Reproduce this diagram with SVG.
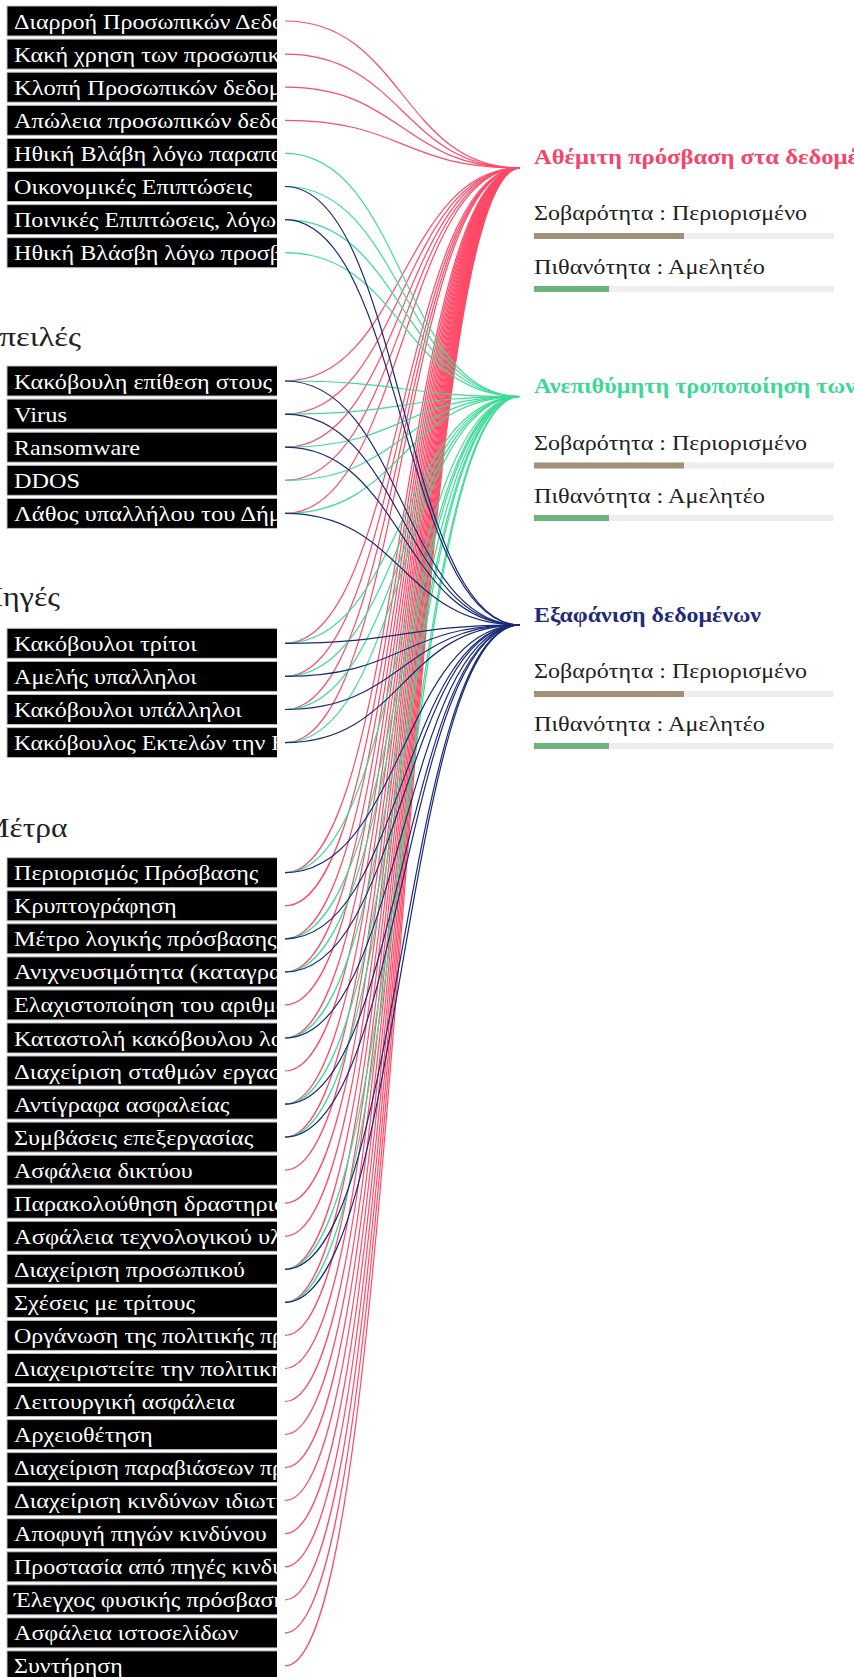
<svg xmlns="http://www.w3.org/2000/svg" width="854" height="1677" viewBox="0 0 854 1677">
<style>
.box{fill:#000;stroke:#bdbdbd;stroke-width:1}
.lbl{font-family:"Liberation Serif","DejaVu Serif",serif;font-size:22px;fill:#fff}
.hd{font-family:"Liberation Serif","DejaVu Serif",serif;font-size:28px;fill:#222}
.ttl{font-family:"Liberation Serif","DejaVu Serif",serif;font-size:20px;font-weight:bold}
.txt{font-family:"Liberation Serif","DejaVu Serif",serif;font-size:22px;fill:#222}
.bg{fill:#eeeeee}
.sev{fill:#a39079}
.prob{fill:#6cb47e}
.r{fill:none;stroke:#ff4a68;stroke-width:1.2}
.g{fill:none;stroke:#3ddc97;stroke-width:1.2}
.b{fill:none;stroke:#1b2a78;stroke-width:1.2}
</style>
<defs>
<clipPath id="lblclip"><rect x="0" y="0" width="277" height="1677"/></clipPath>
</defs>
<g id="connectors">
<g id="to-red">
<path class="r" d="M285,21C402.5,21 402.5,168 520,168"/>
<path class="r" d="M285,54.1C402.5,54.1 402.5,168 520,168"/>
<path class="r" d="M285,87.2C402.5,87.2 402.5,168 520,168"/>
<path class="r" d="M285,120.3C402.5,120.3 402.5,168 520,168"/>
<path class="r" d="M285,381C402.5,381 402.5,168 520,168"/>
<path class="r" d="M285,414.1C402.5,414.1 402.5,168 520,168"/>
<path class="r" d="M285,447.2C402.5,447.2 402.5,168 520,168"/>
<path class="r" d="M285,480.3C402.5,480.3 402.5,168 520,168"/>
<path class="r" d="M285,513.4C402.5,513.4 402.5,168 520,168"/>
<path class="r" d="M285,643.3C402.5,643.3 402.5,168 520,168"/>
<path class="r" d="M285,676.4C402.5,676.4 402.5,168 520,168"/>
<path class="r" d="M285,709.5C402.5,709.5 402.5,168 520,168"/>
<path class="r" d="M285,742.6C402.5,742.6 402.5,168 520,168"/>
<path class="r" d="M285,872.7C402.5,872.7 402.5,168 520,168"/>
<path class="r" d="M285,905.8C402.5,905.8 402.5,168 520,168"/>
<path class="r" d="M285,938.8C402.5,938.8 402.5,168 520,168"/>
<path class="r" d="M285,971.9C402.5,971.9 402.5,168 520,168"/>
<path class="r" d="M285,1004.9C402.5,1004.9 402.5,168 520,168"/>
<path class="r" d="M285,1038C402.5,1038 402.5,168 520,168"/>
<path class="r" d="M285,1071C402.5,1071 402.5,168 520,168"/>
<path class="r" d="M285,1104.1C402.5,1104.1 402.5,168 520,168"/>
<path class="r" d="M285,1137.1C402.5,1137.1 402.5,168 520,168"/>
<path class="r" d="M285,1170.2C402.5,1170.2 402.5,168 520,168"/>
<path class="r" d="M285,1203.2C402.5,1203.2 402.5,168 520,168"/>
<path class="r" d="M285,1236.3C402.5,1236.3 402.5,168 520,168"/>
<path class="r" d="M285,1269.3C402.5,1269.3 402.5,168 520,168"/>
<path class="r" d="M285,1302.4C402.5,1302.4 402.5,168 520,168"/>
<path class="r" d="M285,1335.4C402.5,1335.4 402.5,168 520,168"/>
<path class="r" d="M285,1368.5C402.5,1368.5 402.5,168 520,168"/>
<path class="r" d="M285,1401.5C402.5,1401.5 402.5,168 520,168"/>
<path class="r" d="M285,1434.6C402.5,1434.6 402.5,168 520,168"/>
<path class="r" d="M285,1467.6C402.5,1467.6 402.5,168 520,168"/>
<path class="r" d="M285,1500.7C402.5,1500.7 402.5,168 520,168"/>
<path class="r" d="M285,1533.7C402.5,1533.7 402.5,168 520,168"/>
<path class="r" d="M285,1566.8C402.5,1566.8 402.5,168 520,168"/>
<path class="r" d="M285,1599.8C402.5,1599.8 402.5,168 520,168"/>
<path class="r" d="M285,1632.9C402.5,1632.9 402.5,168 520,168"/>
<path class="r" d="M285,1665.9C402.5,1665.9 402.5,168 520,168"/>
</g>
<g id="to-green">
<path class="g" d="M285,153.4C402.5,153.4 402.5,396.5 520,396.5"/>
<path class="g" d="M285,186.5C402.5,186.5 402.5,396.5 520,396.5"/>
<path class="g" d="M285,219.6C402.5,219.6 402.5,396.5 520,396.5"/>
<path class="g" d="M285,252.7C402.5,252.7 402.5,396.5 520,396.5"/>
<path class="g" d="M285,381C402.5,381 402.5,396.5 520,396.5"/>
<path class="g" d="M285,414.1C402.5,414.1 402.5,396.5 520,396.5"/>
<path class="g" d="M285,447.2C402.5,447.2 402.5,396.5 520,396.5"/>
<path class="g" d="M285,480.3C402.5,480.3 402.5,396.5 520,396.5"/>
<path class="g" d="M285,513.4C402.5,513.4 402.5,396.5 520,396.5"/>
<path class="g" d="M285,643.3C402.5,643.3 402.5,396.5 520,396.5"/>
<path class="g" d="M285,676.4C402.5,676.4 402.5,396.5 520,396.5"/>
<path class="g" d="M285,709.5C402.5,709.5 402.5,396.5 520,396.5"/>
<path class="g" d="M285,742.6C402.5,742.6 402.5,396.5 520,396.5"/>
<path class="g" d="M285,872.7C402.5,872.7 402.5,396.5 520,396.5"/>
<path class="g" d="M285,938.8C402.5,938.8 402.5,396.5 520,396.5"/>
<path class="g" d="M285,971.9C402.5,971.9 402.5,396.5 520,396.5"/>
<path class="g" d="M285,1038C402.5,1038 402.5,396.5 520,396.5"/>
<path class="g" d="M285,1104.1C402.5,1104.1 402.5,396.5 520,396.5"/>
<path class="g" d="M285,1137.1C402.5,1137.1 402.5,396.5 520,396.5"/>
<path class="g" d="M285,1269.3C402.5,1269.3 402.5,396.5 520,396.5"/>
<path class="g" d="M285,1302.4C402.5,1302.4 402.5,396.5 520,396.5"/>
</g>
<g id="to-blue">
<path class="b" d="M285,186.5C402.5,186.5 402.5,625 520,625"/>
<path class="b" d="M285,219.6C402.5,219.6 402.5,625 520,625"/>
<path class="b" d="M285,381C402.5,381 402.5,625 520,625"/>
<path class="b" d="M285,414.1C402.5,414.1 402.5,625 520,625"/>
<path class="b" d="M285,447.2C402.5,447.2 402.5,625 520,625"/>
<path class="b" d="M285,513.4C402.5,513.4 402.5,625 520,625"/>
<path class="b" d="M285,643.3C402.5,643.3 402.5,625 520,625"/>
<path class="b" d="M285,676.4C402.5,676.4 402.5,625 520,625"/>
<path class="b" d="M285,709.5C402.5,709.5 402.5,625 520,625"/>
<path class="b" d="M285,742.6C402.5,742.6 402.5,625 520,625"/>
<path class="b" d="M285,872.7C402.5,872.7 402.5,625 520,625"/>
<path class="b" d="M285,938.8C402.5,938.8 402.5,625 520,625"/>
<path class="b" d="M285,971.9C402.5,971.9 402.5,625 520,625"/>
<path class="b" d="M285,1038C402.5,1038 402.5,625 520,625"/>
<path class="b" d="M285,1104.1C402.5,1104.1 402.5,625 520,625"/>
<path class="b" d="M285,1137.1C402.5,1137.1 402.5,625 520,625"/>
<path class="b" d="M285,1269.3C402.5,1269.3 402.5,625 520,625"/>
<path class="b" d="M285,1302.4C402.5,1302.4 402.5,625 520,625"/>
</g>
</g>

<g id="headings">
<text class="hd" x="-24" y="346" textLength="105" lengthAdjust="spacingAndGlyphs">Απειλές</text>
<text class="hd" x="-20" y="606" textLength="80" lengthAdjust="spacingAndGlyphs">Πηγές</text>
<text class="hd" x="-18.5" y="837" textLength="86" lengthAdjust="spacingAndGlyphs">Μέτρα</text>
</g>

<g id="impacts" clip-path="url(#lblclip)">
<g id="n-a0"><rect class="box" x="7" y="6" width="271" height="30"/><text class="lbl" x="14" y="28.5" textLength="270" lengthAdjust="spacingAndGlyphs">Διαρροή Προσωπικών Δεδο</text></g>
<g id="n-a1"><rect class="box" x="7" y="39.1" width="271" height="30"/><text class="lbl" x="14" y="61.6" textLength="266" lengthAdjust="spacingAndGlyphs">Κακή χρηση των προσωπικ</text></g>
<g id="n-a2"><rect class="box" x="7" y="72.2" width="271" height="30"/><text class="lbl" x="14" y="94.7" textLength="268" lengthAdjust="spacingAndGlyphs">Κλοπή Προσωπικών δεδομ</text></g>
<g id="n-a3"><rect class="box" x="7" y="105.3" width="271" height="30"/><text class="lbl" x="14" y="127.8" textLength="269" lengthAdjust="spacingAndGlyphs">Απώλεια προσωπικών δεδο</text></g>
<g id="n-a4"><rect class="box" x="7" y="138.4" width="271" height="30"/><text class="lbl" x="14" y="160.9" textLength="269" lengthAdjust="spacingAndGlyphs">Ηθική Βλάβη λόγω παραπο</text></g>
<g id="n-a5"><rect class="box" x="7" y="171.5" width="271" height="30"/><text class="lbl" x="14" y="194" textLength="238" lengthAdjust="spacingAndGlyphs">Οικονομικές Επιπτώσεις</text></g>
<g id="n-a6"><rect class="box" x="7" y="204.6" width="271" height="30"/><text class="lbl" x="14" y="227.1" textLength="262" lengthAdjust="spacingAndGlyphs">Ποινικές Επιπτώσεις, λόγω</text></g>
<g id="n-a7"><rect class="box" x="7" y="237.7" width="271" height="30"/><text class="lbl" x="14" y="260.2" textLength="268" lengthAdjust="spacingAndGlyphs">Ηθική Βλάσβη λόγω προσβ</text></g>
</g>

<g id="threats" clip-path="url(#lblclip)">
<g id="n-b0"><rect class="box" x="7" y="366" width="271" height="30"/><text class="lbl" x="14" y="388.5" textLength="258" lengthAdjust="spacingAndGlyphs">Κακόβουλη επίθεση στους</text></g>
<g id="n-b1"><rect class="box" x="7" y="399.1" width="271" height="30"/><text class="lbl" x="14" y="421.6" textLength="53" lengthAdjust="spacingAndGlyphs">Virus</text></g>
<g id="n-b2"><rect class="box" x="7" y="432.2" width="271" height="30"/><text class="lbl" x="14" y="454.7" textLength="126" lengthAdjust="spacingAndGlyphs">Ransomware</text></g>
<g id="n-b3"><rect class="box" x="7" y="465.3" width="271" height="30"/><text class="lbl" x="14" y="487.8" textLength="66" lengthAdjust="spacingAndGlyphs">DDOS</text></g>
<g id="n-b4"><rect class="box" x="7" y="498.4" width="271" height="30"/><text class="lbl" x="14" y="520.9" textLength="268" lengthAdjust="spacingAndGlyphs">Λάθος υπαλλήλου του Δήμ</text></g>
</g>

<g id="sources" clip-path="url(#lblclip)">
<g id="n-c0"><rect class="box" x="7" y="628.3" width="271" height="30"/><text class="lbl" x="14" y="650.8" textLength="182.7" lengthAdjust="spacingAndGlyphs">Κακόβουλοι τρίτοι</text></g>
<g id="n-c1"><rect class="box" x="7" y="661.4" width="271" height="30"/><text class="lbl" x="14" y="683.9" textLength="182.7" lengthAdjust="spacingAndGlyphs">Αμελής υπαλληλοι</text></g>
<g id="n-c2"><rect class="box" x="7" y="694.5" width="271" height="30"/><text class="lbl" x="14" y="717" textLength="227.7" lengthAdjust="spacingAndGlyphs">Κακόβουλοι υπάλληλοι</text></g>
<g id="n-c3"><rect class="box" x="7" y="727.6" width="271" height="30"/><text class="lbl" x="14" y="750.1" textLength="272" lengthAdjust="spacingAndGlyphs">Κακόβουλος Εκτελών την Ε</text></g>
</g>

<g id="measures" clip-path="url(#lblclip)">
<g id="n-d0"><rect class="box" x="7" y="857.7" width="271" height="30"/><text class="lbl" x="14" y="880.2" textLength="244.3" lengthAdjust="spacingAndGlyphs">Περιορισμός Πρόσβασης</text></g>
<g id="n-d1"><rect class="box" x="7" y="890.8" width="271" height="30"/><text class="lbl" x="14" y="913.3" textLength="162.7" lengthAdjust="spacingAndGlyphs">Κρυπτογράφηση</text></g>
<g id="n-d2"><rect class="box" x="7" y="923.8" width="271" height="30"/><text class="lbl" x="14" y="946.3" textLength="262.7" lengthAdjust="spacingAndGlyphs">Μέτρο λογικής πρόσβασης</text></g>
<g id="n-d3"><rect class="box" x="7" y="956.9" width="271" height="30"/><text class="lbl" x="14" y="979.4" textLength="268" lengthAdjust="spacingAndGlyphs">Ανιχνευσιμότητα (καταγρα</text></g>
<g id="n-d4"><rect class="box" x="7" y="989.9" width="271" height="30"/><text class="lbl" x="14" y="1012.4" textLength="274" lengthAdjust="spacingAndGlyphs">Ελαχιστοποίηση του αριθμο</text></g>
<g id="n-d5"><rect class="box" x="7" y="1023" width="271" height="30"/><text class="lbl" x="14" y="1045.5" textLength="269" lengthAdjust="spacingAndGlyphs">Καταστολή κακόβουλου λο</text></g>
<g id="n-d6"><rect class="box" x="7" y="1056" width="271" height="30"/><text class="lbl" x="14" y="1078.5" textLength="268" lengthAdjust="spacingAndGlyphs">Διαχείριση σταθμών εργασ</text></g>
<g id="n-d7"><rect class="box" x="7" y="1089.1" width="271" height="30"/><text class="lbl" x="14" y="1111.6" textLength="215.3" lengthAdjust="spacingAndGlyphs">Αντίγραφα ασφαλείας</text></g>
<g id="n-d8"><rect class="box" x="7" y="1122.1" width="271" height="30"/><text class="lbl" x="14" y="1144.6" textLength="239.3" lengthAdjust="spacingAndGlyphs">Συμβάσεις επεξεργασίας</text></g>
<g id="n-d9"><rect class="box" x="7" y="1155.2" width="271" height="30"/><text class="lbl" x="14" y="1177.7" textLength="178.7" lengthAdjust="spacingAndGlyphs">Ασφάλεια δικτύου</text></g>
<g id="n-d10"><rect class="box" x="7" y="1188.2" width="271" height="30"/><text class="lbl" x="14" y="1210.7" textLength="272" lengthAdjust="spacingAndGlyphs">Παρακολούθηση δραστηριό</text></g>
<g id="n-d11"><rect class="box" x="7" y="1221.3" width="271" height="30"/><text class="lbl" x="14" y="1243.8" textLength="268" lengthAdjust="spacingAndGlyphs">Ασφάλεια τεχνολογικού υλ</text></g>
<g id="n-d12"><rect class="box" x="7" y="1254.3" width="271" height="30"/><text class="lbl" x="14" y="1276.8" textLength="231" lengthAdjust="spacingAndGlyphs">Διαχείριση προσωπικού</text></g>
<g id="n-d13"><rect class="box" x="7" y="1287.4" width="271" height="30"/><text class="lbl" x="14" y="1309.9" textLength="181" lengthAdjust="spacingAndGlyphs">Σχέσεις με τρίτους</text></g>
<g id="n-d14"><rect class="box" x="7" y="1320.4" width="271" height="30"/><text class="lbl" x="14" y="1342.9" textLength="270" lengthAdjust="spacingAndGlyphs">Οργάνωση της πολιτικής πρ</text></g>
<g id="n-d15"><rect class="box" x="7" y="1353.5" width="271" height="30"/><text class="lbl" x="14" y="1376" textLength="270" lengthAdjust="spacingAndGlyphs">Διαχειριστείτε την πολιτική</text></g>
<g id="n-d16"><rect class="box" x="7" y="1386.5" width="271" height="30"/><text class="lbl" x="14" y="1409" textLength="221" lengthAdjust="spacingAndGlyphs">Λειτουργική ασφάλεια</text></g>
<g id="n-d17"><rect class="box" x="7" y="1419.6" width="271" height="30"/><text class="lbl" x="14" y="1442.1" textLength="138.7" lengthAdjust="spacingAndGlyphs">Αρχειοθέτηση</text></g>
<g id="n-d18"><rect class="box" x="7" y="1452.6" width="271" height="30"/><text class="lbl" x="14" y="1475.1" textLength="270" lengthAdjust="spacingAndGlyphs">Διαχείριση παραβιάσεων πρ</text></g>
<g id="n-d19"><rect class="box" x="7" y="1485.7" width="271" height="30"/><text class="lbl" x="14" y="1508.2" textLength="268" lengthAdjust="spacingAndGlyphs">Διαχείριση κινδύνων ιδιωτι</text></g>
<g id="n-d20"><rect class="box" x="7" y="1518.7" width="271" height="30"/><text class="lbl" x="14" y="1541.2" textLength="252.7" lengthAdjust="spacingAndGlyphs">Αποφυγή πηγών κινδύνου</text></g>
<g id="n-d21"><rect class="box" x="7" y="1551.8" width="271" height="30"/><text class="lbl" x="14" y="1574.3" textLength="270" lengthAdjust="spacingAndGlyphs">Προστασία από πηγές κινδυ</text></g>
<g id="n-d22"><rect class="box" x="7" y="1584.8" width="271" height="30"/><text class="lbl" x="14" y="1607.3" textLength="272" lengthAdjust="spacingAndGlyphs">Έλεγχος φυσικής πρόσβαση</text></g>
<g id="n-d23"><rect class="box" x="7" y="1617.9" width="271" height="30"/><text class="lbl" x="14" y="1640.4" textLength="224.3" lengthAdjust="spacingAndGlyphs">Ασφάλεια ιστοσελίδων</text></g>
<g id="n-d24"><rect class="box" x="7" y="1650.9" width="271" height="30"/><text class="lbl" x="14" y="1673.4" textLength="108.7" lengthAdjust="spacingAndGlyphs">Συντήρηση</text></g>
</g>

<g id="risk-red">
<text class="ttl" x="534" y="164" fill="#f5456a" textLength="324" lengthAdjust="spacingAndGlyphs">Αθέμιτη πρόσβαση στα δεδομέ</text>
<text class="txt" x="534" y="220" textLength="273" lengthAdjust="spacingAndGlyphs">Σοβαρότητα : Περιορισμένο</text>
<rect class="bg" x="534" y="233" width="300" height="6"/>
<rect class="sev" x="534" y="233" width="150" height="6"/>
<text class="txt" x="534" y="273.5" textLength="231" lengthAdjust="spacingAndGlyphs">Πιθανότητα : Αμελητέο</text>
<rect class="bg" x="534" y="286" width="300" height="6"/>
<rect class="prob" x="534" y="286" width="75" height="6"/>
</g>
<g id="risk-green">
<text class="ttl" x="534" y="393" fill="#3dd896" textLength="322" lengthAdjust="spacingAndGlyphs">Ανεπιθύμητη τροποποίηση των</text>
<text class="txt" x="534" y="450" textLength="273" lengthAdjust="spacingAndGlyphs">Σοβαρότητα : Περιορισμένο</text>
<rect class="bg" x="534" y="462.5" width="300" height="6"/>
<rect class="sev" x="534" y="462.5" width="150" height="6"/>
<text class="txt" x="534" y="502.5" textLength="231" lengthAdjust="spacingAndGlyphs">Πιθανότητα : Αμελητέο</text>
<rect class="bg" x="534" y="515" width="300" height="6"/>
<rect class="prob" x="534" y="515" width="75" height="6"/>
</g>
<g id="risk-blue">
<text class="ttl" x="534" y="621.5" fill="#1f2d78" textLength="227" lengthAdjust="spacingAndGlyphs">Εξαφάνιση δεδομένων</text>
<text class="txt" x="534" y="677.5" textLength="273" lengthAdjust="spacingAndGlyphs">Σοβαρότητα : Περιορισμένο</text>
<rect class="bg" x="534" y="691" width="300" height="6"/>
<rect class="sev" x="534" y="691" width="150" height="6"/>
<text class="txt" x="534" y="731" textLength="231" lengthAdjust="spacingAndGlyphs">Πιθανότητα : Αμελητέο</text>
<rect class="bg" x="534" y="743" width="300" height="6"/>
<rect class="prob" x="534" y="743" width="75" height="6"/>
</g>
</svg>
